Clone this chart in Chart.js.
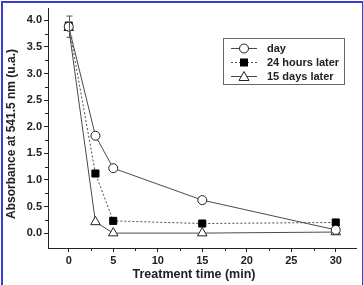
<!DOCTYPE html>
<html>
<head>
<meta charset="utf-8">
<script src="https://cdn.jsdelivr.net/npm/chart.js@4"></script>
<style>
  html, body { margin: 0; padding: 0; background: #fff; }
  #wrap { position: relative; width: 363px; height: 285px; }
  #frame { position: absolute; left: 1px; top: 1px; width: 359px; height: 290px; border: 2px solid #3b3bd6; border-bottom: none; pointer-events: none; }
</style>
</head>
<body>
<div id="wrap">
  <canvas id="myChart" width="363" height="285"></canvas>
  <div id="frame"></div>
</div>
<script>
// treatment time (min)
var times = [0, 3, 5, 15, 30];
// absorbance series
var dayVals = [3.88, 1.83, 1.22, 0.62, 0.06];
var hours24Vals = [3.9, 1.12, 0.23, 0.18, 0.2];
var days15Vals = [3.86, 0.21, 0.0, 0.0, 0.02];
// error on first point (day)
var dayErr = [0.2, 0, 0, 0, 0];
var seriesNames = ['day', '24 hours later', '15 days later'];
var xTicks = [0, 5, 10, 15, 20, 25, 30];
var yTicks = [0.0, 0.5, 1.0, 1.5, 2.0, 2.5, 3.0, 3.5, 4.0];
var xTitle = 'Treatment time (min)';
var yTitle = 'Absorbance at 541.5 nm (u.a.)';

function pts(vals) {
  var out = [];
  for (var i = 0; i < times.length; i++) out.push({x: times[i], y: vals[i]});
  return out;
}

var lineCol = '#4a4a4a';
var font = 'Liberation Sans, Arial, sans-serif';

// minor ticks, error bars, titles, legend
var extras = {
  id: 'extras',
  afterDatasetsDraw: function(chart) {
    var ctx = chart.ctx;
    var xs = chart.scales.x, ys = chart.scales.y;
    ctx.save();
    ctx.strokeStyle = '#222';
    ctx.lineWidth = 1;
    // minor ticks
    for (var v = 2.5; v < 32; v += 5) {
      var px = Math.round(xs.getPixelForValue(v)) + 0.5;
      ctx.beginPath(); ctx.moveTo(px, xs.top); ctx.lineTo(px, xs.top + 3); ctx.stroke();
    }
    for (var w = 0.25; w < 4.2; w += 0.5) {
      var py = Math.round(ys.getPixelForValue(w)) + 0.5;
      ctx.beginPath(); ctx.moveTo(ys.right, py); ctx.lineTo(ys.right - 3, py); ctx.stroke();
    }
    // error bars
    ctx.strokeStyle = '#555';
    for (var i = 0; i < times.length; i++) {
      if (!dayErr[i]) continue;
      var ex = Math.round(xs.getPixelForValue(times[i])) + 0.5;
      var y1 = ys.getPixelForValue(dayVals[i] + dayErr[i]);
      var y2 = ys.getPixelForValue(dayVals[i] - dayErr[i]);
      ctx.beginPath();
      ctx.moveTo(ex, y1); ctx.lineTo(ex, y2);
      ctx.moveTo(ex - 3, y1); ctx.lineTo(ex + 3, y1);
      ctx.moveTo(ex - 3, y2); ctx.lineTo(ex + 3, y2);
      ctx.stroke();
    }
    // axis titles
    ctx.fillStyle = '#222';
    ctx.textAlign = 'center';
    ctx.textBaseline = 'middle';
    ctx.font = 'bold 12.5px ' + font;
    ctx.fillText(xTitle, 194, 275);
    ctx.save();
    ctx.translate(12, 134);
    ctx.rotate(-Math.PI / 2);
    ctx.font = 'bold 12px ' + font;
    ctx.fillText(yTitle, 0, 0);
    ctx.restore();
    // legend
    ctx.textAlign = 'left';
    var bx = 223, by = 38, bw = 121, bh = 46;
    ctx.strokeStyle = '#666';
    ctx.strokeRect(bx + 0.5, by + 0.5, bw, bh);
    ctx.font = 'bold 11px ' + font;
    var rows = [48, 62, 76];
    chart.data.datasets.forEach(function(ds, k) {
      var ry = rows[k] + 0.5;
      ctx.strokeStyle = lineCol;
      ctx.setLineDash(ds.borderDash || []);
      ctx.beginPath(); ctx.moveTo(231, ry); ctx.lineTo(257, ry); ctx.stroke();
      ctx.setLineDash([]);
      ctx.strokeStyle = '#222';
      ctx.fillStyle = ds.pointBackgroundColor;
      if (ds.pointStyle === 'circle') {
        ctx.beginPath(); ctx.arc(244, ry, 4.5, 0, Math.PI * 2); ctx.fill(); ctx.stroke();
      } else if (ds.pointStyle === 'rect') {
        ctx.fillStyle = '#000';
        ctx.fillRect(240, ry - 4, 8, 8);
      } else {
        ctx.beginPath(); ctx.moveTo(244, ry - 5); ctx.lineTo(249, ry + 4); ctx.lineTo(239, ry + 4); ctx.closePath(); ctx.fill(); ctx.stroke();
      }
      ctx.fillStyle = '#222';
      ctx.fillText(seriesNames[k], 267, rows[k] + 1);
    });
    ctx.restore();
  }
};

new Chart(document.getElementById('myChart').getContext('2d'), {
  type: 'line',
  data: {
    datasets: [{
      label: seriesNames[0],
      data: pts(dayVals),
      borderColor: lineCol, borderWidth: 1,
      pointStyle: 'circle', pointRadius: 4.5, pointBackgroundColor: '#fff', pointBorderColor: '#222', pointBorderWidth: 1
    }, {
      label: seriesNames[1],
      data: pts(hours24Vals),
      borderColor: lineCol, borderWidth: 1, borderDash: [2, 2],
      pointStyle: 'rect', pointRadius: 5, pointBackgroundColor: '#000', pointBorderColor: '#000', pointBorderWidth: 1
    }, {
      label: seriesNames[2],
      data: pts(days15Vals),
      borderColor: lineCol, borderWidth: 1,
      pointStyle: 'triangle', pointRadius: 5.5, pointBackgroundColor: '#fff', pointBorderColor: '#222', pointBorderWidth: 1
    }]
  },
  options: {
    responsive: false,
    animation: false,
    layout: { padding: { left: 0, right: 3, top: 5, bottom: 0 } },
    plugins: { legend: { display: false }, tooltip: { enabled: false } },
    scales: {
      x: {
        type: 'linear', min: -2.33, max: 32.33,
        afterBuildTicks: function(s) { s.ticks = xTicks.map(function(v) { return {value: v}; }); },
        afterFit: function(s) { s.height = 37; },
        grid: { drawOnChartArea: false, drawTicks: true, tickLength: 4, color: '#222' },
        border: { color: '#222', width: 1 },
        ticks: { color: '#222', font: { family: font, size: 11, weight: 'bold' }, padding: 2, maxRotation: 0 },
        title: { display: false }
      },
      y: {
        type: 'linear', min: -0.28, max: 4.22,
        afterBuildTicks: function(s) { s.ticks = yTicks.map(function(v) { return {value: v}; }); },
        afterFit: function(s) { s.width = 48; },
        grid: { drawOnChartArea: false, drawTicks: true, tickLength: 4, color: '#222' },
        border: { color: '#222', width: 1 },
        ticks: { color: '#222', font: { family: font, size: 11, weight: 'bold' }, padding: 2,
          callback: function(v) { return v.toFixed(1); } },
        title: { display: false }
      }
    }
  },
  plugins: [extras]
});
</script>
</body>
</html>
